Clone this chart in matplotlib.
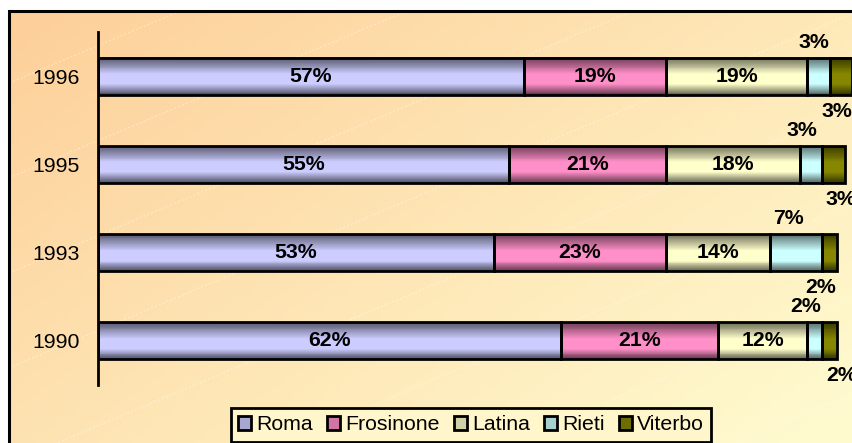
import numpy as np
import matplotlib
matplotlib.use("Agg")
import matplotlib.pyplot as plt
from matplotlib.patches import Patch, Rectangle
from matplotlib.colors import to_rgb

plt.rcParams['font.family'] = ['Liberation Sans', 'DejaVu Sans']

# ---- data ----
years = ["1990", "1993", "1995", "1996"]
series = ["Roma", "Frosinone", "Latina", "Rieti", "Viterbo"]
roma = [62, 53, 55, 57]
frosinone = [21, 23, 21, 19]
latina = [12, 14, 18, 19]
rieti = [2, 7, 3, 3]
viterbo = [2, 2, 3, 3]
values = [roma, frosinone, latina, rieti, viterbo]

# ---- styles ----
base_colors = ["#CCCCFF", "#FF8FC8", "#FFFFCC", "#CCFFFF", "#868600"]
rieti_dx = [-9, -8, -9, -5]     # pixel offsets of outside labels (1990..1996)
viterbo_dx = [12, -9, 7, -4]
FS = 15.3

W, H = 853, 443
fig = plt.figure(figsize=(W / 100, H / 100), dpi=100)
fig.patch.set_facecolor("white")

# background panel with gradient
BW, BH = W - 9, H - 11
bg = fig.add_axes([9 / W, 0, BW / W, BH / H])
bg.set_axis_off()
nx, ny = 200, 100
xx, yy = np.meshgrid(np.linspace(0, 1, nx), np.linspace(0, 1, ny))
t = np.clip(0.6 * xx + 0.45 * yy, 0, 1)
c0 = np.array([253, 207, 153]) / 255
c1 = np.array([255, 250, 206]) / 255
img = c0[None, None, :] * (1 - t[..., None]) + c1[None, None, :] * t[..., None]
bg.imshow(img, extent=[0, BW, 0, BH], aspect="auto", origin="upper", zorder=0)
xs = np.array([0, BW])
for c in np.arange(-400, BH + 40, 95):
    bg.plot(xs, c + 0.42 * xs, color="white", lw=1.0, alpha=0.35,
            ls=(0, (1.5, 1.5)), zorder=1)
bg.set_xlim(0, BW)
bg.set_ylim(0, BH)
bg.add_patch(Rectangle((0, -0.5), 1.5, 1.5, fill=False, ec="black", lw=2.2,
                       transform=bg.transAxes, clip_on=False, zorder=3))

# main axes
ax = fig.add_axes([98 / W, (H - 385) / H, (W - 98) / W, (385 - 32) / H])
ax.patch.set_alpha(0)

ypos = np.arange(len(years))
bar_h = 0.42

# vertical shading profile (top -> bottom), drawn as thin strips
N = 40
s = (np.arange(N) + 0.5) / N
prof = np.interp(s, [0, 0.15, 0.45, 0.72, 0.88, 1.0],
                 [0.42, 0.60, 1.0, 1.0, 0.64, 0.38])
strip_h = bar_h / N

left = np.zeros(len(years))
seg_info = []
for vals, col in zip(values, base_colors):
    vals = np.array(vals, dtype=float)
    rgb = np.array(to_rgb(col))
    for k in range(N):
        yc = ypos + bar_h / 2 - (k + 0.5) * strip_h
        ax.barh(yc, vals, left=left, height=strip_h * 1.6,
                color=np.clip(rgb * prof[k], 0, 1), edgecolor="none",
                linewidth=0, zorder=1 + k * 0.001)
    ax.barh(ypos, vals, left=left, height=bar_h, facecolor="none",
            edgecolor="black", linewidth=2, zorder=3)
    seg_info.append((left.copy(), vals))
    left = left + vals

ax.set_xlim(0, 101.1)
ax.set_ylim(-0.5, len(years) - 0.5)

# labels
for i, (lft, vals) in enumerate(seg_info):
    for j in range(len(years)):
        xc = lft[j] + vals[j] / 2
        txt = f"{int(vals[j])}%"
        if i < 3:
            ax.text(xc, ypos[j], txt, ha="center", va="center",
                    fontsize=FS, fontweight="bold", zorder=5)
        elif i == 3:
            ax.annotate(txt, (xc, ypos[j]), xytext=(rieti_dx[j], 34),
                        textcoords="offset pixels", ha="center", va="center",
                        fontsize=FS, fontweight="bold", zorder=5,
                        annotation_clip=False)
        else:
            ax.annotate(txt, (xc, ypos[j]), xytext=(viterbo_dx[j], -35),
                        textcoords="offset pixels", ha="center", va="center",
                        fontsize=FS, fontweight="bold", zorder=5,
                        annotation_clip=False)

ax.set_yticks(ypos)
ax.set_yticklabels(years, fontsize=FS)
ax.tick_params(axis="y", length=0, pad=13)
ax.set_xticks([])
for sp in ["top", "right", "bottom"]:
    ax.spines[sp].set_visible(False)
ax.spines["left"].set_linewidth(2)

# legend
handles = []
for name, col in zip(series, base_colors):
    rgb = np.array(to_rgb(col)) * 0.82
    handles.append(Patch(facecolor=rgb, edgecolor="black", linewidth=2, label=name))
leg = fig.legend(handles=handles, loc="center",
                 bbox_to_anchor=(471 / W, 1 - 425 / H), ncol=5,
                 fontsize=FS, frameon=True, fancybox=False,
                 handlelength=0.62, handleheight=0.62, handletextpad=0.25,
                 columnspacing=0.65, borderpad=0.35, borderaxespad=0)
frame = leg.get_frame()
frame.set_edgecolor("black")
frame.set_linewidth(2)
frame.set_facecolor("#FFF6CC")
frame.set_alpha(1)

fig.savefig("out.png", dpi=100)
